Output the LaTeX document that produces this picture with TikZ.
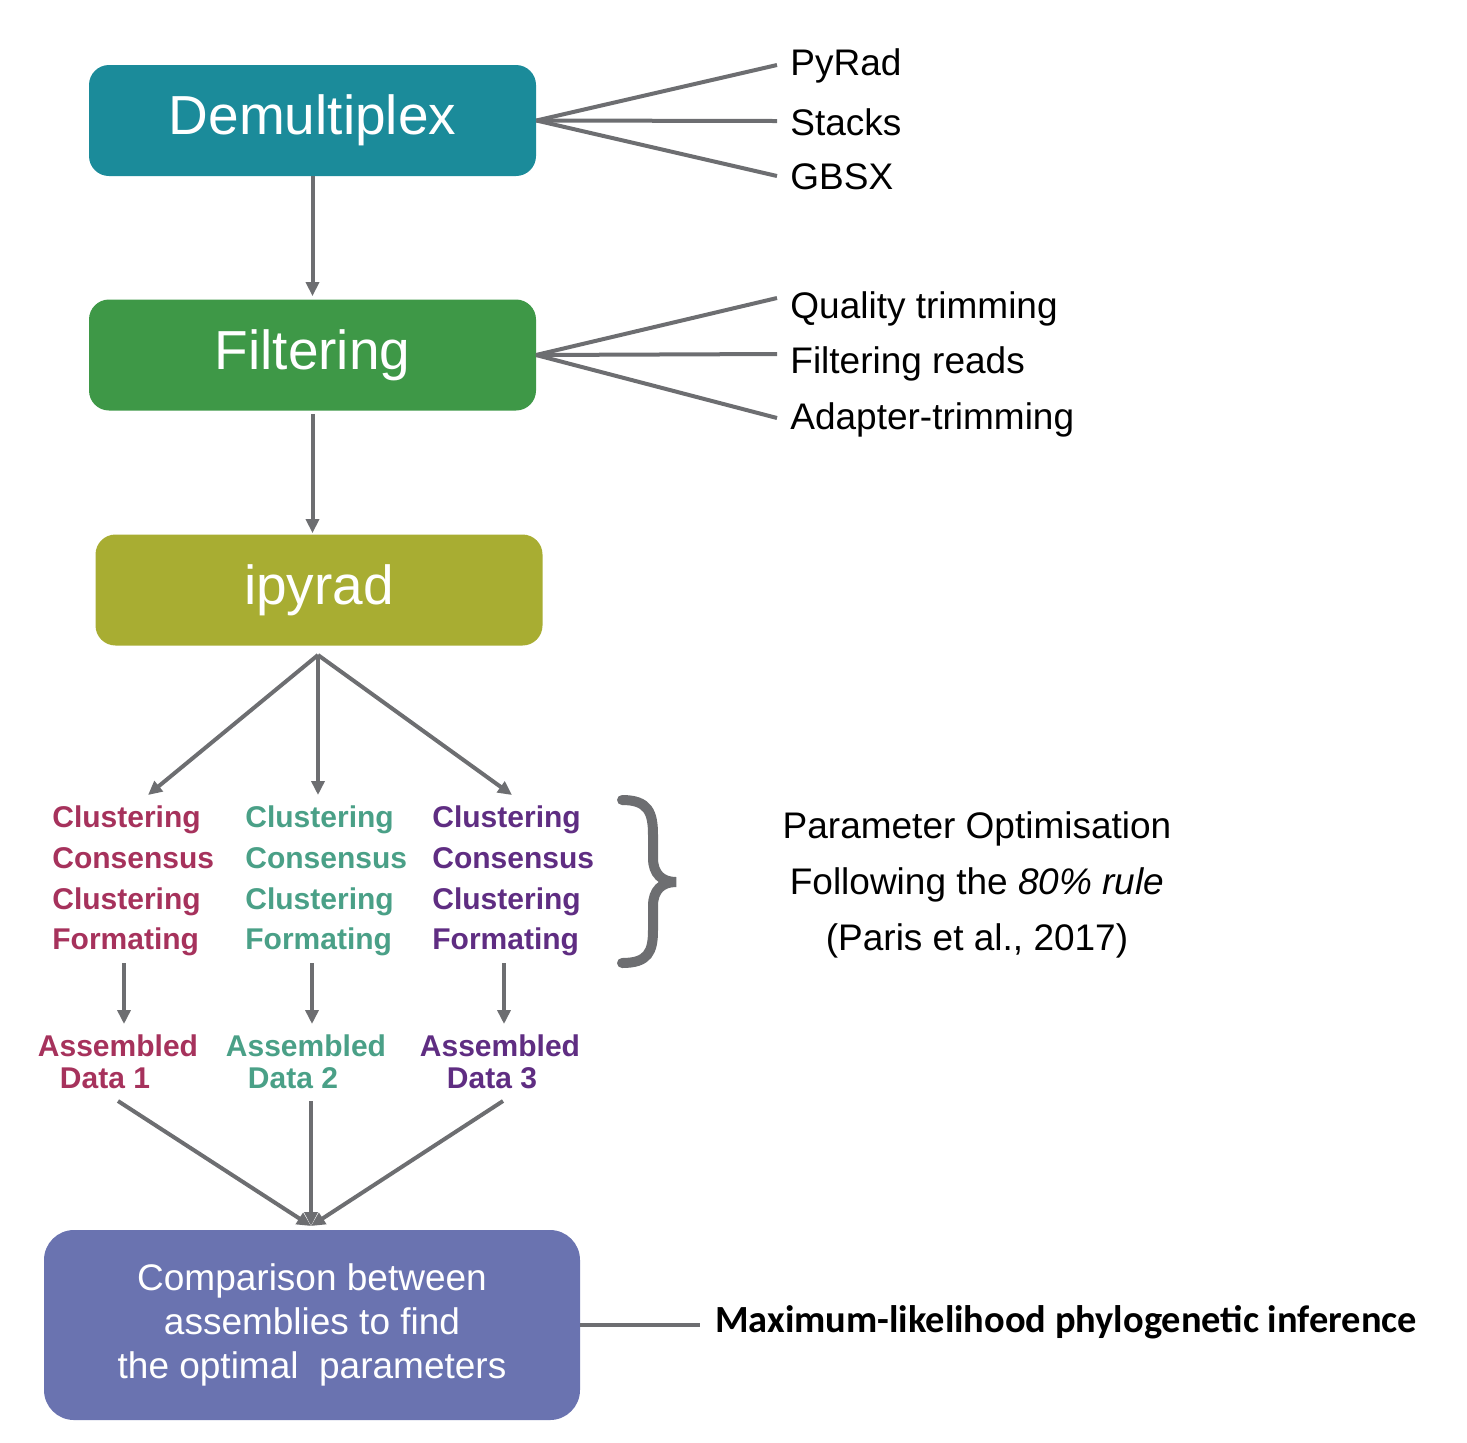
\documentclass[tikz,border=0pt]{standalone}
\usepackage{fontspec}
\setmainfont{Liberation Sans}
\newfontfamily\calfont{Carlito}
\usetikzlibrary{arrows.meta}
\definecolor{lc}{RGB}{109,110,113}
\definecolor{cteal}{RGB}{27,139,154}
\definecolor{cgreen}{RGB}{62,152,71}
\definecolor{colive}{RGB}{168,173,50}
\definecolor{cviolet}{RGB}{106,115,176}
\definecolor{tred}{RGB}{166,50,92}
\definecolor{tgreen}{RGB}{74,160,135}
\definecolor{tpurple}{RGB}{95,45,130}
\begin{document}
\begin{tikzpicture}[x=0.5pt,y=-0.5pt,
  box/.style={rounded corners=10pt, text=white, minimum width=223.5pt, minimum height=55.5pt, inner sep=0pt, font=\fontsize{27.5}{33}\selectfont},
  conn/.style={draw=lc, line width=2pt},
  arr/.style={conn, -{Triangle[length=7pt,width=6.5pt]}},
  lab/.style={anchor=west, inner sep=0pt, font=\fontsize{18.5}{22}\selectfont},
  stage/.style={anchor=west, inner sep=0pt, align=left, font=\fontsize{15}{20.3}\selectfont\bfseries},
  asm/.style={inner sep=0pt, align=center, font=\fontsize{15}{16}\selectfont\bfseries}
]
\useasboundingbox (0,0) rectangle (1467,1442);

% main boxes
\node[box, fill=cteal] (dem) at (312.5,120.5) {Demultiplex};
\node[box, fill=cgreen] (fil) at (312.5,355) {Filtering};
\node[box, fill=colive] (ipy) at (319,590) {ipyrad};
\node[box, fill=cviolet, rounded corners=15pt, minimum width=268pt, minimum height=95pt, align=center, font=\fontsize{18.5}{22}\selectfont] (cmp) at (312,1325)
  {Comparison between\\assemblies to find\\the optimal\ \ parameters};

% right labels
\node[lab] (pyrad) at (790,66) {PyRad};
\node[lab] (stacks) at (790,122) {Stacks};
\node[lab] (gbsx) at (790,177) {GBSX};
\node[lab] (qual) at (790,309) {Quality trimming};
\node[lab] (filr) at (790,364) {Filtering reads};
\node[lab] (adap) at (790,420) {Adapter-trimming};

\coordinate (e1) at (777,65);
\coordinate (e2) at (777,121);
\coordinate (e3) at (777,176);
\coordinate (e4) at (777,298);
\coordinate (e5) at (777,354);
\coordinate (e6) at (777,418);
\coordinate (fo) at (536,355);

\draw[conn] (dem.east) -- (e1);
\draw[conn] (dem.east) -- (e2);
\draw[conn] (dem.east) -- (e3);
\draw[conn] (fo) -- (e4);
\draw[conn] (fo) -- (e5);
\draw[conn] (fo) -- (e6);

% vertical arrows
\draw[arr] (dem.south) -- ([yshift=1.5pt]fil.north);
\draw[arr] ([yshift=-1.5pt]fil.south) -- ([yshift=0.5pt]fil.south |- ipy.north);

% stage columns
\node[stage, text=tred] (c1) at (52,881) {Clustering\\Consensus\\Clustering\\Formating};
\node[stage, text=tgreen] (c2) at (245,881) {Clustering\\Consensus\\Clustering\\Formating};
\node[stage, text=tpurple] (c3) at (432,881) {Clustering\\Consensus\\Clustering\\Formating};

\coordinate (fan) at (318,655);
\coordinate (t1) at (148,795);
\coordinate (t2) at (318,795);
\coordinate (t3) at (512,795);
\draw[arr] (fan) -- (t1);
\draw[arr] (fan) -- (t2);
\draw[arr] (fan) -- (t3);

% assembled
\node[asm, text=tred] (a1) at (118,1062) {Assembled\\Data 1\hspace*{13pt}};
\node[asm, text=tgreen] (a2) at (306,1062) {Assembled\\Data 2\hspace*{13pt}};
\node[asm, text=tpurple] (a3) at (500,1062) {Assembled\\Data 3\hspace*{8pt}};

\coordinate (f1) at (124,963);
\coordinate (f2) at (312,963);
\coordinate (f3) at (504,963);
\coordinate (g1) at (124,1024);
\coordinate (g2) at (312,1024);
\coordinate (g3) at (504,1024);
\draw[arr] (f1) -- (g1);
\draw[arr] (f2) -- (g2);
\draw[arr] (f3) -- (g3);

\coordinate (h1) at (118,1101);
\coordinate (h2) at (311,1101);
\coordinate (h3) at (503,1101);
\coordinate (cin) at (311,1226);
\draw[arr] (h1) -- (cin);
\draw[arr] (h2) -- (cin);
\draw[arr] (h3) -- (cin);

% brace
\draw[lc, line width=5pt, line cap=round]
  (622,800) .. controls (648,800) and (653,812) .. (653,835) -- (653,858)
  .. controls (653,874) and (662,882) .. (676,882)
  .. controls (662,882) and (653,890) .. (653,906) -- (653,930)
  .. controls (653,952) and (648,963) .. (622,963);

\node[align=center, inner sep=0pt, font=\fontsize{18.5}{28}\selectfont] (param) at (977,885)
  {Parameter Optimisation\\Following the \textit{80\% rule}\\(Paris et al., 2017)};

% ML
\node[anchor=west, inner sep=0pt, font=\calfont\bfseries\fontsize{19.2}{23}\selectfont] (ml) at (715,1322) {Maximum-likelihood phylogenetic inference};
\coordinate (mlend) at (700,1325);
\draw[conn] (cmp.east) -- (mlend);
\end{tikzpicture}
\end{document}
